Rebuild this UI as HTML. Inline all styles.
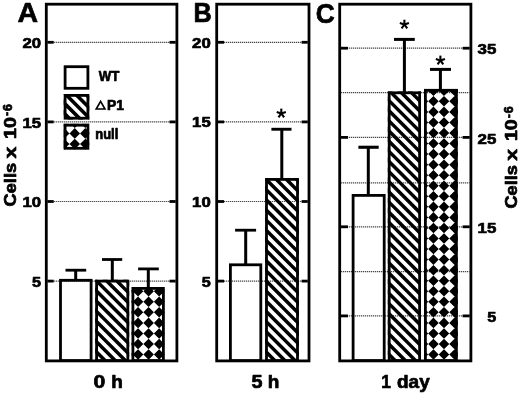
<!DOCTYPE html>
<html><head><meta charset="utf-8"><title>Figure</title>
<style>
html,body{margin:0;padding:0;background:#fff;}
body{width:520px;height:394px;overflow:hidden;}
svg{display:block;filter:blur(0.3px);}
text{font-family:"Liberation Sans",sans-serif;font-weight:bold;fill:#000;stroke:#000;stroke-width:0.7px;stroke-linejoin:round;}
</style></head><body>
<svg width="520" height="394" viewBox="0 0 520 394">
<rect width="520" height="394" fill="#fff"/>
<rect x="59.10" y="278.90" width="33.40" height="83.10" fill="#fff"/>
<rect x="95.20" y="279.70" width="34.00" height="82.30" fill="#fff"/>
<rect x="131.50" y="287.00" width="33.30" height="75.00" fill="#fff"/>
<rect x="229.00" y="263.40" width="33.20" height="98.60" fill="#fff"/>
<rect x="265.10" y="178.00" width="33.80" height="184.00" fill="#fff"/>
<rect x="351.70" y="194.00" width="33.90" height="168.00" fill="#fff"/>
<rect x="387.80" y="91.40" width="33.20" height="270.60" fill="#fff"/>
<rect x="424.00" y="88.90" width="33.80" height="273.10" fill="#fff"/>
<rect x="63.70" y="65.30" width="25.60" height="24.40" fill="#fff"/>
<rect x="63.70" y="94.00" width="25.60" height="25.60" fill="#fff"/>
<rect x="63.70" y="123.80" width="25.60" height="25.90" fill="#fff"/>
<line x1="47.70" y1="42.30" x2="175.50" y2="42.30" stroke="#000" stroke-width="1.2" stroke-dasharray="1.15,0.85" opacity="0.8"/>
<line x1="47.70" y1="121.90" x2="175.50" y2="121.90" stroke="#000" stroke-width="1.2" stroke-dasharray="1.15,0.85" opacity="0.8"/>
<line x1="47.70" y1="201.50" x2="175.50" y2="201.50" stroke="#000" stroke-width="1.2" stroke-dasharray="1.15,0.85" opacity="0.8"/>
<line x1="47.70" y1="281.10" x2="175.50" y2="281.10" stroke="#000" stroke-width="1.2" stroke-dasharray="1.15,0.85" opacity="0.8"/>
<line x1="218.10" y1="42.30" x2="307.60" y2="42.30" stroke="#000" stroke-width="1.2" stroke-dasharray="1.15,0.85" opacity="0.8"/>
<line x1="218.10" y1="121.90" x2="307.60" y2="121.90" stroke="#000" stroke-width="1.2" stroke-dasharray="1.15,0.85" opacity="0.8"/>
<line x1="218.10" y1="201.50" x2="307.60" y2="201.50" stroke="#000" stroke-width="1.2" stroke-dasharray="1.15,0.85" opacity="0.8"/>
<line x1="218.10" y1="281.10" x2="307.60" y2="281.10" stroke="#000" stroke-width="1.2" stroke-dasharray="1.15,0.85" opacity="0.8"/>
<line x1="341.10" y1="48.20" x2="469.50" y2="48.20" stroke="#000" stroke-width="1.2" stroke-dasharray="1.15,0.85" opacity="0.8"/>
<line x1="341.10" y1="92.70" x2="469.50" y2="92.70" stroke="#000" stroke-width="1.2" stroke-dasharray="1.15,0.85" opacity="0.8"/>
<line x1="341.10" y1="137.40" x2="469.50" y2="137.40" stroke="#000" stroke-width="1.2" stroke-dasharray="1.15,0.85" opacity="0.8"/>
<line x1="341.10" y1="182.90" x2="469.50" y2="182.90" stroke="#000" stroke-width="1.2" stroke-dasharray="1.15,0.85" opacity="0.8"/>
<line x1="341.10" y1="226.80" x2="469.50" y2="226.80" stroke="#000" stroke-width="1.2" stroke-dasharray="1.15,0.85" opacity="0.8"/>
<line x1="341.10" y1="271.60" x2="469.50" y2="271.60" stroke="#000" stroke-width="1.2" stroke-dasharray="1.15,0.85" opacity="0.8"/>
<line x1="341.10" y1="315.90" x2="469.50" y2="315.90" stroke="#000" stroke-width="1.2" stroke-dasharray="1.15,0.85" opacity="0.8"/>
<line x1="65.50" y1="270.20" x2="86.20" y2="270.20" stroke="#000" stroke-width="2.8000000000000114"/>
<line x1="75.70" y1="270.20" x2="75.70" y2="280.00" stroke="#000" stroke-width="3.0"/>
<rect x="60.50" y="280.30" width="30.60" height="80.30" fill="none" stroke="#000" stroke-width="2.8"/>
<line x1="102.00" y1="259.50" x2="122.20" y2="259.50" stroke="#000" stroke-width="2.7999999999999545"/>
<line x1="112.30" y1="259.50" x2="112.30" y2="281.00" stroke="#000" stroke-width="3.0"/>
<clipPath id="c1"><rect x="95.20" y="279.70" width="34.00" height="82.30"/></clipPath>
<path d="M92.20,225.85L132.20,265.85M92.20,236.00L132.20,276.00M92.20,246.15L132.20,286.15M92.20,256.30L132.20,296.30M92.20,266.45L132.20,306.45M92.20,276.60L132.20,316.60M92.20,286.75L132.20,326.75M92.20,296.90L132.20,336.90M92.20,307.05L132.20,347.05M92.20,317.20L132.20,357.20M92.20,327.35L132.20,367.35M92.20,337.50L132.20,377.50M92.20,347.65L132.20,387.65M92.20,357.80L132.20,397.80M92.20,367.95L132.20,407.95M92.20,378.10L132.20,418.10" stroke="#000" stroke-width="3.5" fill="none" clip-path="url(#c1)"/>
<rect x="96.60" y="281.10" width="31.20" height="79.50" fill="none" stroke="#000" stroke-width="2.8"/>
<line x1="138.10" y1="268.90" x2="158.80" y2="268.90" stroke="#000" stroke-width="2.8000000000000114"/>
<line x1="148.30" y1="268.90" x2="148.30" y2="288.00" stroke="#000" stroke-width="3.0"/>
<clipPath id="c2"><rect x="131.50" y="287.00" width="33.30" height="75.00"/></clipPath>
<path d="M116.95,264.88L122.23,270.15L116.95,275.42L111.67,270.15ZM116.95,275.43L122.23,280.70L116.95,285.98L111.67,280.70ZM116.95,285.98L122.23,291.25L116.95,296.52L111.67,291.25ZM116.95,296.53L122.23,301.80L116.95,307.07L111.67,301.80ZM116.95,307.08L122.23,312.35L116.95,317.62L111.67,312.35ZM116.95,317.62L122.23,322.90L116.95,328.17L111.67,322.90ZM116.95,328.18L122.23,333.45L116.95,338.73L111.67,333.45ZM116.95,338.73L122.23,344.00L116.95,349.27L111.67,344.00ZM116.95,349.28L122.23,354.55L116.95,359.82L111.67,354.55ZM116.95,359.83L122.23,365.10L116.95,370.38L111.67,365.10ZM116.95,370.38L122.23,375.65L116.95,380.92L111.67,375.65ZM127.50,264.88L132.78,270.15L127.50,275.42L122.22,270.15ZM127.50,275.43L132.78,280.70L127.50,285.98L122.22,280.70ZM127.50,285.98L132.78,291.25L127.50,296.52L122.22,291.25ZM127.50,296.53L132.78,301.80L127.50,307.07L122.22,301.80ZM127.50,307.08L132.78,312.35L127.50,317.62L122.22,312.35ZM127.50,317.62L132.78,322.90L127.50,328.17L122.22,322.90ZM127.50,328.18L132.78,333.45L127.50,338.73L122.22,333.45ZM127.50,338.73L132.78,344.00L127.50,349.27L122.22,344.00ZM127.50,349.28L132.78,354.55L127.50,359.82L122.22,354.55ZM127.50,359.83L132.78,365.10L127.50,370.38L122.22,365.10ZM127.50,370.38L132.78,375.65L127.50,380.92L122.22,375.65ZM138.05,264.88L143.33,270.15L138.05,275.42L132.78,270.15ZM138.05,275.43L143.33,280.70L138.05,285.98L132.78,280.70ZM138.05,285.98L143.33,291.25L138.05,296.52L132.78,291.25ZM138.05,296.53L143.33,301.80L138.05,307.07L132.78,301.80ZM138.05,307.08L143.33,312.35L138.05,317.62L132.78,312.35ZM138.05,317.62L143.33,322.90L138.05,328.17L132.78,322.90ZM138.05,328.18L143.33,333.45L138.05,338.73L132.78,333.45ZM138.05,338.73L143.33,344.00L138.05,349.27L132.78,344.00ZM138.05,349.28L143.33,354.55L138.05,359.82L132.78,354.55ZM138.05,359.83L143.33,365.10L138.05,370.38L132.78,365.10ZM138.05,370.38L143.33,375.65L138.05,380.92L132.78,375.65ZM148.60,264.88L153.88,270.15L148.60,275.42L143.33,270.15ZM148.60,275.43L153.88,280.70L148.60,285.98L143.33,280.70ZM148.60,285.98L153.88,291.25L148.60,296.52L143.33,291.25ZM148.60,296.53L153.88,301.80L148.60,307.07L143.33,301.80ZM148.60,307.08L153.88,312.35L148.60,317.62L143.33,312.35ZM148.60,317.62L153.88,322.90L148.60,328.17L143.33,322.90ZM148.60,328.18L153.88,333.45L148.60,338.73L143.33,333.45ZM148.60,338.73L153.88,344.00L148.60,349.27L143.33,344.00ZM148.60,349.28L153.88,354.55L148.60,359.82L143.33,354.55ZM148.60,359.83L153.88,365.10L148.60,370.38L143.33,365.10ZM148.60,370.38L153.88,375.65L148.60,380.92L143.33,375.65ZM159.15,264.88L164.43,270.15L159.15,275.42L153.88,270.15ZM159.15,275.43L164.43,280.70L159.15,285.98L153.88,280.70ZM159.15,285.98L164.43,291.25L159.15,296.52L153.88,291.25ZM159.15,296.53L164.43,301.80L159.15,307.07L153.88,301.80ZM159.15,307.08L164.43,312.35L159.15,317.62L153.88,312.35ZM159.15,317.62L164.43,322.90L159.15,328.17L153.88,322.90ZM159.15,328.18L164.43,333.45L159.15,338.73L153.88,333.45ZM159.15,338.73L164.43,344.00L159.15,349.27L153.88,344.00ZM159.15,349.28L164.43,354.55L159.15,359.82L153.88,354.55ZM159.15,359.83L164.43,365.10L159.15,370.38L153.88,365.10ZM159.15,370.38L164.43,375.65L159.15,380.92L153.88,375.65ZM169.70,264.88L174.97,270.15L169.70,275.42L164.42,270.15ZM169.70,275.43L174.97,280.70L169.70,285.98L164.42,280.70ZM169.70,285.98L174.97,291.25L169.70,296.52L164.42,291.25ZM169.70,296.53L174.97,301.80L169.70,307.07L164.42,301.80ZM169.70,307.08L174.97,312.35L169.70,317.62L164.42,312.35ZM169.70,317.62L174.97,322.90L169.70,328.17L164.42,322.90ZM169.70,328.18L174.97,333.45L169.70,338.73L164.42,333.45ZM169.70,338.73L174.97,344.00L169.70,349.27L164.42,344.00ZM169.70,349.28L174.97,354.55L169.70,359.82L164.42,354.55ZM169.70,359.83L174.97,365.10L169.70,370.38L164.42,365.10ZM169.70,370.38L174.97,375.65L169.70,380.92L164.42,375.65ZM180.25,264.88L185.53,270.15L180.25,275.42L174.97,270.15ZM180.25,275.43L185.53,280.70L180.25,285.98L174.97,280.70ZM180.25,285.98L185.53,291.25L180.25,296.52L174.97,291.25ZM180.25,296.53L185.53,301.80L180.25,307.07L174.97,301.80ZM180.25,307.08L185.53,312.35L180.25,317.62L174.97,312.35ZM180.25,317.62L185.53,322.90L180.25,328.17L174.97,322.90ZM180.25,328.18L185.53,333.45L180.25,338.73L174.97,333.45ZM180.25,338.73L185.53,344.00L180.25,349.27L174.97,344.00ZM180.25,349.28L185.53,354.55L180.25,359.82L174.97,354.55ZM180.25,359.83L185.53,365.10L180.25,370.38L174.97,365.10ZM180.25,370.38L185.53,375.65L180.25,380.92L174.97,375.65Z" fill="#000" clip-path="url(#c2)"/>
<rect x="132.90" y="288.40" width="30.50" height="72.20" fill="none" stroke="#000" stroke-width="2.8"/>
<line x1="235.10" y1="230.20" x2="256.10" y2="230.20" stroke="#000" stroke-width="2.799999999999983"/>
<line x1="245.70" y1="230.20" x2="245.70" y2="265.00" stroke="#000" stroke-width="3.0"/>
<rect x="230.40" y="264.80" width="30.40" height="95.80" fill="none" stroke="#000" stroke-width="2.8"/>
<line x1="271.40" y1="129.25" x2="291.50" y2="129.25" stroke="#000" stroke-width="2.8999999999999915"/>
<line x1="281.80" y1="129.25" x2="281.80" y2="179.00" stroke="#000" stroke-width="3.0"/>
<clipPath id="c3"><rect x="265.10" y="178.00" width="33.80" height="184.00"/></clipPath>
<path d="M262.10,124.60L301.90,164.40M262.10,134.75L301.90,174.55M262.10,144.90L301.90,184.70M262.10,155.05L301.90,194.85M262.10,165.20L301.90,205.00M262.10,175.35L301.90,215.15M262.10,185.50L301.90,225.30M262.10,195.65L301.90,235.45M262.10,205.80L301.90,245.60M262.10,215.95L301.90,255.75M262.10,226.10L301.90,265.90M262.10,236.25L301.90,276.05M262.10,246.40L301.90,286.20M262.10,256.55L301.90,296.35M262.10,266.70L301.90,306.50M262.10,276.85L301.90,316.65M262.10,287.00L301.90,326.80M262.10,297.15L301.90,336.95M262.10,307.30L301.90,347.10M262.10,317.45L301.90,357.25M262.10,327.60L301.90,367.40M262.10,337.75L301.90,377.55M262.10,347.90L301.90,387.70M262.10,358.05L301.90,397.85M262.10,368.20L301.90,408.00M262.10,378.35L301.90,418.15" stroke="#000" stroke-width="3.5" fill="none" clip-path="url(#c3)"/>
<rect x="266.50" y="179.40" width="31.00" height="181.20" fill="none" stroke="#000" stroke-width="2.8"/>
<line x1="358.40" y1="147.25" x2="378.70" y2="147.25" stroke="#000" stroke-width="3.1000000000000227"/>
<line x1="368.30" y1="147.25" x2="368.30" y2="196.00" stroke="#000" stroke-width="3.0"/>
<rect x="353.10" y="195.40" width="31.10" height="165.20" fill="none" stroke="#000" stroke-width="2.8"/>
<line x1="394.00" y1="39.40" x2="414.80" y2="39.40" stroke="#000" stroke-width="3.0"/>
<line x1="404.40" y1="39.40" x2="404.40" y2="93.00" stroke="#000" stroke-width="3.0"/>
<clipPath id="c4"><rect x="387.80" y="91.40" width="33.20" height="270.60"/></clipPath>
<path d="M384.80,35.50L424.00,74.70M384.80,45.65L424.00,84.85M384.80,55.80L424.00,95.00M384.80,65.95L424.00,105.15M384.80,76.10L424.00,115.30M384.80,86.25L424.00,125.45M384.80,96.40L424.00,135.60M384.80,106.55L424.00,145.75M384.80,116.70L424.00,155.90M384.80,126.85L424.00,166.05M384.80,137.00L424.00,176.20M384.80,147.15L424.00,186.35M384.80,157.30L424.00,196.50M384.80,167.45L424.00,206.65M384.80,177.60L424.00,216.80M384.80,187.75L424.00,226.95M384.80,197.90L424.00,237.10M384.80,208.05L424.00,247.25M384.80,218.20L424.00,257.40M384.80,228.35L424.00,267.55M384.80,238.50L424.00,277.70M384.80,248.65L424.00,287.85M384.80,258.80L424.00,298.00M384.80,268.95L424.00,308.15M384.80,279.10L424.00,318.30M384.80,289.25L424.00,328.45M384.80,299.40L424.00,338.60M384.80,309.55L424.00,348.75M384.80,319.70L424.00,358.90M384.80,329.85L424.00,369.05M384.80,340.00L424.00,379.20M384.80,350.15L424.00,389.35M384.80,360.30L424.00,399.50M384.80,370.45L424.00,409.65" stroke="#000" stroke-width="3.5" fill="none" clip-path="url(#c4)"/>
<rect x="389.20" y="92.80" width="30.40" height="267.80" fill="none" stroke="#000" stroke-width="2.8"/>
<line x1="430.00" y1="69.40" x2="451.00" y2="69.40" stroke="#000" stroke-width="3.0"/>
<line x1="440.40" y1="69.40" x2="440.40" y2="90.00" stroke="#000" stroke-width="3.0"/>
<clipPath id="c5"><rect x="424.00" y="88.90" width="33.80" height="273.10"/></clipPath>
<path d="M412.35,64.42L417.62,69.70L412.35,74.97L407.08,69.70ZM412.35,74.97L417.62,80.25L412.35,85.53L407.08,80.25ZM412.35,85.52L417.62,90.80L412.35,96.08L407.08,90.80ZM412.35,96.07L417.62,101.35L412.35,106.62L407.08,101.35ZM412.35,106.62L417.62,111.90L412.35,117.18L407.08,111.90ZM412.35,117.17L417.62,122.45L412.35,127.73L407.08,122.45ZM412.35,127.72L417.62,133.00L412.35,138.28L407.08,133.00ZM412.35,138.28L417.62,143.55L412.35,148.83L407.08,143.55ZM412.35,148.82L417.62,154.10L412.35,159.38L407.08,154.10ZM412.35,159.38L417.62,164.65L412.35,169.93L407.08,164.65ZM412.35,169.92L417.62,175.20L412.35,180.47L407.08,175.20ZM412.35,180.47L417.62,185.75L412.35,191.03L407.08,185.75ZM412.35,191.03L417.62,196.30L412.35,201.58L407.08,196.30ZM412.35,201.58L417.62,206.85L412.35,212.13L407.08,206.85ZM412.35,212.12L417.62,217.40L412.35,222.68L407.08,217.40ZM412.35,222.67L417.62,227.95L412.35,233.22L407.08,227.95ZM412.35,233.22L417.62,238.50L412.35,243.78L407.08,238.50ZM412.35,243.78L417.62,249.05L412.35,254.33L407.08,249.05ZM412.35,254.33L417.62,259.60L412.35,264.88L407.08,259.60ZM412.35,264.88L417.62,270.15L412.35,275.42L407.08,270.15ZM412.35,275.43L417.62,280.70L412.35,285.98L407.08,280.70ZM412.35,285.98L417.62,291.25L412.35,296.52L407.08,291.25ZM412.35,296.53L417.62,301.80L412.35,307.07L407.08,301.80ZM412.35,307.08L417.62,312.35L412.35,317.62L407.08,312.35ZM412.35,317.62L417.62,322.90L412.35,328.17L407.08,322.90ZM412.35,328.18L417.62,333.45L412.35,338.73L407.08,333.45ZM412.35,338.73L417.62,344.00L412.35,349.27L407.08,344.00ZM412.35,349.28L417.62,354.55L412.35,359.82L407.08,354.55ZM412.35,359.83L417.62,365.10L412.35,370.38L407.08,365.10ZM412.35,370.38L417.62,375.65L412.35,380.92L407.08,375.65ZM422.90,64.42L428.18,69.70L422.90,74.97L417.63,69.70ZM422.90,74.97L428.18,80.25L422.90,85.53L417.63,80.25ZM422.90,85.52L428.18,90.80L422.90,96.08L417.63,90.80ZM422.90,96.07L428.18,101.35L422.90,106.62L417.63,101.35ZM422.90,106.62L428.18,111.90L422.90,117.18L417.63,111.90ZM422.90,117.17L428.18,122.45L422.90,127.73L417.63,122.45ZM422.90,127.72L428.18,133.00L422.90,138.28L417.63,133.00ZM422.90,138.28L428.18,143.55L422.90,148.83L417.63,143.55ZM422.90,148.82L428.18,154.10L422.90,159.38L417.63,154.10ZM422.90,159.38L428.18,164.65L422.90,169.93L417.63,164.65ZM422.90,169.92L428.18,175.20L422.90,180.47L417.63,175.20ZM422.90,180.47L428.18,185.75L422.90,191.03L417.63,185.75ZM422.90,191.03L428.18,196.30L422.90,201.58L417.63,196.30ZM422.90,201.58L428.18,206.85L422.90,212.13L417.63,206.85ZM422.90,212.12L428.18,217.40L422.90,222.68L417.63,217.40ZM422.90,222.67L428.18,227.95L422.90,233.22L417.63,227.95ZM422.90,233.22L428.18,238.50L422.90,243.78L417.63,238.50ZM422.90,243.78L428.18,249.05L422.90,254.33L417.63,249.05ZM422.90,254.33L428.18,259.60L422.90,264.88L417.63,259.60ZM422.90,264.88L428.18,270.15L422.90,275.42L417.63,270.15ZM422.90,275.43L428.18,280.70L422.90,285.98L417.63,280.70ZM422.90,285.98L428.18,291.25L422.90,296.52L417.63,291.25ZM422.90,296.53L428.18,301.80L422.90,307.07L417.63,301.80ZM422.90,307.08L428.18,312.35L422.90,317.62L417.63,312.35ZM422.90,317.62L428.18,322.90L422.90,328.17L417.63,322.90ZM422.90,328.18L428.18,333.45L422.90,338.73L417.63,333.45ZM422.90,338.73L428.18,344.00L422.90,349.27L417.63,344.00ZM422.90,349.28L428.18,354.55L422.90,359.82L417.63,354.55ZM422.90,359.83L428.18,365.10L422.90,370.38L417.63,365.10ZM422.90,370.38L428.18,375.65L422.90,380.92L417.63,375.65ZM433.45,64.42L438.72,69.70L433.45,74.97L428.18,69.70ZM433.45,74.97L438.72,80.25L433.45,85.53L428.18,80.25ZM433.45,85.52L438.72,90.80L433.45,96.08L428.18,90.80ZM433.45,96.07L438.72,101.35L433.45,106.62L428.18,101.35ZM433.45,106.62L438.72,111.90L433.45,117.18L428.18,111.90ZM433.45,117.17L438.72,122.45L433.45,127.73L428.18,122.45ZM433.45,127.72L438.72,133.00L433.45,138.28L428.18,133.00ZM433.45,138.28L438.72,143.55L433.45,148.83L428.18,143.55ZM433.45,148.82L438.72,154.10L433.45,159.38L428.18,154.10ZM433.45,159.38L438.72,164.65L433.45,169.93L428.18,164.65ZM433.45,169.92L438.72,175.20L433.45,180.47L428.18,175.20ZM433.45,180.47L438.72,185.75L433.45,191.03L428.18,185.75ZM433.45,191.03L438.72,196.30L433.45,201.58L428.18,196.30ZM433.45,201.58L438.72,206.85L433.45,212.13L428.18,206.85ZM433.45,212.12L438.72,217.40L433.45,222.68L428.18,217.40ZM433.45,222.67L438.72,227.95L433.45,233.22L428.18,227.95ZM433.45,233.22L438.72,238.50L433.45,243.78L428.18,238.50ZM433.45,243.78L438.72,249.05L433.45,254.33L428.18,249.05ZM433.45,254.33L438.72,259.60L433.45,264.88L428.18,259.60ZM433.45,264.88L438.72,270.15L433.45,275.42L428.18,270.15ZM433.45,275.43L438.72,280.70L433.45,285.98L428.18,280.70ZM433.45,285.98L438.72,291.25L433.45,296.52L428.18,291.25ZM433.45,296.53L438.72,301.80L433.45,307.07L428.18,301.80ZM433.45,307.08L438.72,312.35L433.45,317.62L428.18,312.35ZM433.45,317.62L438.72,322.90L433.45,328.17L428.18,322.90ZM433.45,328.18L438.72,333.45L433.45,338.73L428.18,333.45ZM433.45,338.73L438.72,344.00L433.45,349.27L428.18,344.00ZM433.45,349.28L438.72,354.55L433.45,359.82L428.18,354.55ZM433.45,359.83L438.72,365.10L433.45,370.38L428.18,365.10ZM433.45,370.38L438.72,375.65L433.45,380.92L428.18,375.65ZM444.00,64.42L449.27,69.70L444.00,74.97L438.73,69.70ZM444.00,74.97L449.27,80.25L444.00,85.53L438.73,80.25ZM444.00,85.52L449.27,90.80L444.00,96.08L438.73,90.80ZM444.00,96.07L449.27,101.35L444.00,106.62L438.73,101.35ZM444.00,106.62L449.27,111.90L444.00,117.18L438.73,111.90ZM444.00,117.17L449.27,122.45L444.00,127.73L438.73,122.45ZM444.00,127.72L449.27,133.00L444.00,138.28L438.73,133.00ZM444.00,138.28L449.27,143.55L444.00,148.83L438.73,143.55ZM444.00,148.82L449.27,154.10L444.00,159.38L438.73,154.10ZM444.00,159.38L449.27,164.65L444.00,169.93L438.73,164.65ZM444.00,169.92L449.27,175.20L444.00,180.47L438.73,175.20ZM444.00,180.47L449.27,185.75L444.00,191.03L438.73,185.75ZM444.00,191.03L449.27,196.30L444.00,201.58L438.73,196.30ZM444.00,201.58L449.27,206.85L444.00,212.13L438.73,206.85ZM444.00,212.12L449.27,217.40L444.00,222.68L438.73,217.40ZM444.00,222.67L449.27,227.95L444.00,233.22L438.73,227.95ZM444.00,233.22L449.27,238.50L444.00,243.78L438.73,238.50ZM444.00,243.78L449.27,249.05L444.00,254.33L438.73,249.05ZM444.00,254.33L449.27,259.60L444.00,264.88L438.73,259.60ZM444.00,264.88L449.27,270.15L444.00,275.42L438.73,270.15ZM444.00,275.43L449.27,280.70L444.00,285.98L438.73,280.70ZM444.00,285.98L449.27,291.25L444.00,296.52L438.73,291.25ZM444.00,296.53L449.27,301.80L444.00,307.07L438.73,301.80ZM444.00,307.08L449.27,312.35L444.00,317.62L438.73,312.35ZM444.00,317.62L449.27,322.90L444.00,328.17L438.73,322.90ZM444.00,328.18L449.27,333.45L444.00,338.73L438.73,333.45ZM444.00,338.73L449.27,344.00L444.00,349.27L438.73,344.00ZM444.00,349.28L449.27,354.55L444.00,359.82L438.73,354.55ZM444.00,359.83L449.27,365.10L444.00,370.38L438.73,365.10ZM444.00,370.38L449.27,375.65L444.00,380.92L438.73,375.65ZM454.55,64.42L459.82,69.70L454.55,74.97L449.28,69.70ZM454.55,74.97L459.82,80.25L454.55,85.53L449.28,80.25ZM454.55,85.52L459.82,90.80L454.55,96.08L449.28,90.80ZM454.55,96.07L459.82,101.35L454.55,106.62L449.28,101.35ZM454.55,106.62L459.82,111.90L454.55,117.18L449.28,111.90ZM454.55,117.17L459.82,122.45L454.55,127.73L449.28,122.45ZM454.55,127.72L459.82,133.00L454.55,138.28L449.28,133.00ZM454.55,138.28L459.82,143.55L454.55,148.83L449.28,143.55ZM454.55,148.82L459.82,154.10L454.55,159.38L449.28,154.10ZM454.55,159.38L459.82,164.65L454.55,169.93L449.28,164.65ZM454.55,169.92L459.82,175.20L454.55,180.47L449.28,175.20ZM454.55,180.47L459.82,185.75L454.55,191.03L449.28,185.75ZM454.55,191.03L459.82,196.30L454.55,201.58L449.28,196.30ZM454.55,201.58L459.82,206.85L454.55,212.13L449.28,206.85ZM454.55,212.12L459.82,217.40L454.55,222.68L449.28,217.40ZM454.55,222.67L459.82,227.95L454.55,233.22L449.28,227.95ZM454.55,233.22L459.82,238.50L454.55,243.78L449.28,238.50ZM454.55,243.78L459.82,249.05L454.55,254.33L449.28,249.05ZM454.55,254.33L459.82,259.60L454.55,264.88L449.28,259.60ZM454.55,264.88L459.82,270.15L454.55,275.42L449.28,270.15ZM454.55,275.43L459.82,280.70L454.55,285.98L449.28,280.70ZM454.55,285.98L459.82,291.25L454.55,296.52L449.28,291.25ZM454.55,296.53L459.82,301.80L454.55,307.07L449.28,301.80ZM454.55,307.08L459.82,312.35L454.55,317.62L449.28,312.35ZM454.55,317.62L459.82,322.90L454.55,328.17L449.28,322.90ZM454.55,328.18L459.82,333.45L454.55,338.73L449.28,333.45ZM454.55,338.73L459.82,344.00L454.55,349.27L449.28,344.00ZM454.55,349.28L459.82,354.55L454.55,359.82L449.28,354.55ZM454.55,359.83L459.82,365.10L454.55,370.38L449.28,365.10ZM454.55,370.38L459.82,375.65L454.55,380.92L449.28,375.65ZM465.10,64.42L470.38,69.70L465.10,74.97L459.83,69.70ZM465.10,74.97L470.38,80.25L465.10,85.53L459.83,80.25ZM465.10,85.52L470.38,90.80L465.10,96.08L459.83,90.80ZM465.10,96.07L470.38,101.35L465.10,106.62L459.83,101.35ZM465.10,106.62L470.38,111.90L465.10,117.18L459.83,111.90ZM465.10,117.17L470.38,122.45L465.10,127.73L459.83,122.45ZM465.10,127.72L470.38,133.00L465.10,138.28L459.83,133.00ZM465.10,138.28L470.38,143.55L465.10,148.83L459.83,143.55ZM465.10,148.82L470.38,154.10L465.10,159.38L459.83,154.10ZM465.10,159.38L470.38,164.65L465.10,169.93L459.83,164.65ZM465.10,169.92L470.38,175.20L465.10,180.47L459.83,175.20ZM465.10,180.47L470.38,185.75L465.10,191.03L459.83,185.75ZM465.10,191.03L470.38,196.30L465.10,201.58L459.83,196.30ZM465.10,201.58L470.38,206.85L465.10,212.13L459.83,206.85ZM465.10,212.12L470.38,217.40L465.10,222.68L459.83,217.40ZM465.10,222.67L470.38,227.95L465.10,233.22L459.83,227.95ZM465.10,233.22L470.38,238.50L465.10,243.78L459.83,238.50ZM465.10,243.78L470.38,249.05L465.10,254.33L459.83,249.05ZM465.10,254.33L470.38,259.60L465.10,264.88L459.83,259.60ZM465.10,264.88L470.38,270.15L465.10,275.42L459.83,270.15ZM465.10,275.43L470.38,280.70L465.10,285.98L459.83,280.70ZM465.10,285.98L470.38,291.25L465.10,296.52L459.83,291.25ZM465.10,296.53L470.38,301.80L465.10,307.07L459.83,301.80ZM465.10,307.08L470.38,312.35L465.10,317.62L459.83,312.35ZM465.10,317.62L470.38,322.90L465.10,328.17L459.83,322.90ZM465.10,328.18L470.38,333.45L465.10,338.73L459.83,333.45ZM465.10,338.73L470.38,344.00L465.10,349.27L459.83,344.00ZM465.10,349.28L470.38,354.55L465.10,359.82L459.83,354.55ZM465.10,359.83L470.38,365.10L465.10,370.38L459.83,365.10ZM465.10,370.38L470.38,375.65L465.10,380.92L459.83,375.65ZM475.65,64.42L480.93,69.70L475.65,74.97L470.38,69.70ZM475.65,74.97L480.93,80.25L475.65,85.53L470.38,80.25ZM475.65,85.52L480.93,90.80L475.65,96.08L470.38,90.80ZM475.65,96.07L480.93,101.35L475.65,106.62L470.38,101.35ZM475.65,106.62L480.93,111.90L475.65,117.18L470.38,111.90ZM475.65,117.17L480.93,122.45L475.65,127.73L470.38,122.45ZM475.65,127.72L480.93,133.00L475.65,138.28L470.38,133.00ZM475.65,138.28L480.93,143.55L475.65,148.83L470.38,143.55ZM475.65,148.82L480.93,154.10L475.65,159.38L470.38,154.10ZM475.65,159.38L480.93,164.65L475.65,169.93L470.38,164.65ZM475.65,169.92L480.93,175.20L475.65,180.47L470.38,175.20ZM475.65,180.47L480.93,185.75L475.65,191.03L470.38,185.75ZM475.65,191.03L480.93,196.30L475.65,201.58L470.38,196.30ZM475.65,201.58L480.93,206.85L475.65,212.13L470.38,206.85ZM475.65,212.12L480.93,217.40L475.65,222.68L470.38,217.40ZM475.65,222.67L480.93,227.95L475.65,233.22L470.38,227.95ZM475.65,233.22L480.93,238.50L475.65,243.78L470.38,238.50ZM475.65,243.78L480.93,249.05L475.65,254.33L470.38,249.05ZM475.65,254.33L480.93,259.60L475.65,264.88L470.38,259.60ZM475.65,264.88L480.93,270.15L475.65,275.42L470.38,270.15ZM475.65,275.43L480.93,280.70L475.65,285.98L470.38,280.70ZM475.65,285.98L480.93,291.25L475.65,296.52L470.38,291.25ZM475.65,296.53L480.93,301.80L475.65,307.07L470.38,301.80ZM475.65,307.08L480.93,312.35L475.65,317.62L470.38,312.35ZM475.65,317.62L480.93,322.90L475.65,328.17L470.38,322.90ZM475.65,328.18L480.93,333.45L475.65,338.73L470.38,333.45ZM475.65,338.73L480.93,344.00L475.65,349.27L470.38,344.00ZM475.65,349.28L480.93,354.55L475.65,359.82L470.38,354.55ZM475.65,359.83L480.93,365.10L475.65,370.38L470.38,365.10ZM475.65,370.38L480.93,375.65L475.65,380.92L470.38,375.65Z" fill="#000" clip-path="url(#c5)"/>
<rect x="425.40" y="90.30" width="31.00" height="270.30" fill="none" stroke="#000" stroke-width="2.8"/>
<line x1="281.30" y1="113.40" x2="281.30" y2="108.60" stroke="#000" stroke-width="2.1"/>
<line x1="281.30" y1="113.40" x2="285.87" y2="111.92" stroke="#000" stroke-width="2.1"/>
<line x1="281.30" y1="113.40" x2="284.12" y2="117.28" stroke="#000" stroke-width="2.1"/>
<line x1="281.30" y1="113.40" x2="278.48" y2="117.28" stroke="#000" stroke-width="2.1"/>
<line x1="281.30" y1="113.40" x2="276.73" y2="111.92" stroke="#000" stroke-width="2.1"/>
<line x1="404.40" y1="24.50" x2="404.40" y2="19.70" stroke="#000" stroke-width="2.1"/>
<line x1="404.40" y1="24.50" x2="408.97" y2="23.02" stroke="#000" stroke-width="2.1"/>
<line x1="404.40" y1="24.50" x2="407.22" y2="28.38" stroke="#000" stroke-width="2.1"/>
<line x1="404.40" y1="24.50" x2="401.58" y2="28.38" stroke="#000" stroke-width="2.1"/>
<line x1="404.40" y1="24.50" x2="399.83" y2="23.02" stroke="#000" stroke-width="2.1"/>
<line x1="440.40" y1="60.40" x2="440.40" y2="55.60" stroke="#000" stroke-width="2.1"/>
<line x1="440.40" y1="60.40" x2="444.97" y2="58.92" stroke="#000" stroke-width="2.1"/>
<line x1="440.40" y1="60.40" x2="443.22" y2="64.28" stroke="#000" stroke-width="2.1"/>
<line x1="440.40" y1="60.40" x2="437.58" y2="64.28" stroke="#000" stroke-width="2.1"/>
<line x1="440.40" y1="60.40" x2="435.83" y2="58.92" stroke="#000" stroke-width="2.1"/>
<rect x="46.30" y="4.20" width="130.60" height="356.70" fill="none" stroke="#000" stroke-width="2.8"/>
<line x1="47.50" y1="42.30" x2="53.70" y2="42.30" stroke="#000" stroke-width="2.8"/>
<line x1="169.50" y1="42.30" x2="175.70" y2="42.30" stroke="#000" stroke-width="2.8"/>
<line x1="47.50" y1="121.90" x2="53.70" y2="121.90" stroke="#000" stroke-width="2.8"/>
<line x1="169.50" y1="121.90" x2="175.70" y2="121.90" stroke="#000" stroke-width="2.8"/>
<line x1="47.50" y1="201.50" x2="53.70" y2="201.50" stroke="#000" stroke-width="2.8"/>
<line x1="169.50" y1="201.50" x2="175.70" y2="201.50" stroke="#000" stroke-width="2.8"/>
<line x1="47.50" y1="281.10" x2="53.70" y2="281.10" stroke="#000" stroke-width="2.8"/>
<line x1="169.50" y1="281.10" x2="175.70" y2="281.10" stroke="#000" stroke-width="2.8"/>
<rect x="216.70" y="4.20" width="92.30" height="356.70" fill="none" stroke="#000" stroke-width="2.8"/>
<line x1="217.90" y1="42.30" x2="224.10" y2="42.30" stroke="#000" stroke-width="2.8"/>
<line x1="301.60" y1="42.30" x2="307.80" y2="42.30" stroke="#000" stroke-width="2.8"/>
<line x1="217.90" y1="121.90" x2="224.10" y2="121.90" stroke="#000" stroke-width="2.8"/>
<line x1="301.60" y1="121.90" x2="307.80" y2="121.90" stroke="#000" stroke-width="2.8"/>
<line x1="217.90" y1="201.50" x2="224.10" y2="201.50" stroke="#000" stroke-width="2.8"/>
<line x1="301.60" y1="201.50" x2="307.80" y2="201.50" stroke="#000" stroke-width="2.8"/>
<line x1="217.90" y1="281.10" x2="224.10" y2="281.10" stroke="#000" stroke-width="2.8"/>
<line x1="301.60" y1="281.10" x2="307.80" y2="281.10" stroke="#000" stroke-width="2.8"/>
<rect x="339.70" y="4.20" width="131.20" height="356.70" fill="none" stroke="#000" stroke-width="2.8"/>
<line x1="340.90" y1="48.20" x2="348.00" y2="48.20" stroke="#000" stroke-width="2.8"/>
<line x1="462.60" y1="48.20" x2="469.70" y2="48.20" stroke="#000" stroke-width="2.8"/>
<line x1="340.90" y1="137.40" x2="348.00" y2="137.40" stroke="#000" stroke-width="2.8"/>
<line x1="462.60" y1="137.40" x2="469.70" y2="137.40" stroke="#000" stroke-width="2.8"/>
<line x1="340.90" y1="226.80" x2="348.00" y2="226.80" stroke="#000" stroke-width="2.8"/>
<line x1="462.60" y1="226.80" x2="469.70" y2="226.80" stroke="#000" stroke-width="2.8"/>
<line x1="340.90" y1="315.90" x2="348.00" y2="315.90" stroke="#000" stroke-width="2.8"/>
<line x1="462.60" y1="315.90" x2="469.70" y2="315.90" stroke="#000" stroke-width="2.8"/>
<rect x="65.10" y="66.70" width="22.80" height="21.60" fill="none" stroke="#000" stroke-width="2.8"/>
<clipPath id="c6"><rect x="63.70" y="94.00" width="25.60" height="25.60"/></clipPath>
<path d="M60.70,48.80L92.30,80.40M60.70,58.95L92.30,90.55M60.70,69.10L92.30,100.70M60.70,79.25L92.30,110.85M60.70,89.40L92.30,121.00M60.70,99.55L92.30,131.15M60.70,109.70L92.30,141.30M60.70,119.85L92.30,151.45M60.70,130.00L92.30,161.60" stroke="#000" stroke-width="3.6" fill="none" clip-path="url(#c6)"/>
<rect x="65.10" y="95.40" width="22.80" height="22.80" fill="none" stroke="#000" stroke-width="2.8"/>
<clipPath id="c7"><rect x="63.70" y="123.80" width="25.60" height="25.90"/></clipPath>
<path d="M43.10,107.03L48.38,112.30L43.10,117.58L37.83,112.30ZM43.10,117.58L48.38,122.85L43.10,128.12L37.83,122.85ZM43.10,128.12L48.38,133.40L43.10,138.68L37.83,133.40ZM43.10,138.68L48.38,143.95L43.10,149.23L37.83,143.95ZM43.10,149.22L48.38,154.50L43.10,159.78L37.83,154.50ZM43.10,159.78L48.38,165.05L43.10,170.33L37.83,165.05ZM53.65,107.03L58.93,112.30L53.65,117.58L48.38,112.30ZM53.65,117.58L58.93,122.85L53.65,128.12L48.38,122.85ZM53.65,128.12L58.93,133.40L53.65,138.68L48.38,133.40ZM53.65,138.68L58.93,143.95L53.65,149.23L48.38,143.95ZM53.65,149.22L58.93,154.50L53.65,159.78L48.38,154.50ZM53.65,159.78L58.93,165.05L53.65,170.33L48.38,165.05ZM64.20,107.03L69.48,112.30L64.20,117.58L58.93,112.30ZM64.20,117.58L69.48,122.85L64.20,128.12L58.93,122.85ZM64.20,128.12L69.48,133.40L64.20,138.68L58.93,133.40ZM64.20,138.68L69.48,143.95L64.20,149.23L58.93,143.95ZM64.20,149.22L69.48,154.50L64.20,159.78L58.93,154.50ZM64.20,159.78L69.48,165.05L64.20,170.33L58.93,165.05ZM74.75,107.03L80.03,112.30L74.75,117.58L69.47,112.30ZM74.75,117.58L80.03,122.85L74.75,128.12L69.47,122.85ZM74.75,128.12L80.03,133.40L74.75,138.68L69.47,133.40ZM74.75,138.68L80.03,143.95L74.75,149.23L69.47,143.95ZM74.75,149.22L80.03,154.50L74.75,159.78L69.47,154.50ZM74.75,159.78L80.03,165.05L74.75,170.33L69.47,165.05ZM85.30,107.03L90.58,112.30L85.30,117.58L80.03,112.30ZM85.30,117.58L90.58,122.85L85.30,128.12L80.03,122.85ZM85.30,128.12L90.58,133.40L85.30,138.68L80.03,133.40ZM85.30,138.68L90.58,143.95L85.30,149.23L80.03,143.95ZM85.30,149.22L90.58,154.50L85.30,159.78L80.03,154.50ZM85.30,159.78L90.58,165.05L85.30,170.33L80.03,165.05ZM95.85,107.03L101.13,112.30L95.85,117.58L90.58,112.30ZM95.85,117.58L101.13,122.85L95.85,128.12L90.58,122.85ZM95.85,128.12L101.13,133.40L95.85,138.68L90.58,133.40ZM95.85,138.68L101.13,143.95L95.85,149.23L90.58,143.95ZM95.85,149.22L101.13,154.50L95.85,159.78L90.58,154.50ZM95.85,159.78L101.13,165.05L95.85,170.33L90.58,165.05ZM106.40,107.03L111.68,112.30L106.40,117.58L101.12,112.30ZM106.40,117.58L111.68,122.85L106.40,128.12L101.12,122.85ZM106.40,128.12L111.68,133.40L106.40,138.68L101.12,133.40ZM106.40,138.68L111.68,143.95L106.40,149.23L101.12,143.95ZM106.40,149.22L111.68,154.50L106.40,159.78L101.12,154.50ZM106.40,159.78L111.68,165.05L106.40,170.33L101.12,165.05Z" fill="#000" clip-path="url(#c7)"/>
<rect x="65.10" y="125.20" width="22.80" height="23.10" fill="none" stroke="#000" stroke-width="2.8"/>
<text x="98.7" y="80.6" font-size="14.4" text-anchor="start" textLength="20.6" lengthAdjust="spacingAndGlyphs" >WT</text>
<path d="M100.6,101.4 L105.0,109.0 L96.2,109.0 Z" fill="none" stroke="#000" stroke-width="1.6" stroke-linejoin="miter"/>
<text x="106.9" y="109.8" font-size="14.2" text-anchor="start" textLength="17.0" lengthAdjust="spacingAndGlyphs" >P1</text>
<text x="95.3" y="139.1" font-size="14.0" text-anchor="start" textLength="23.0" lengthAdjust="spacingAndGlyphs" >null</text>
<text x="17.4" y="21.6" font-size="27.4" text-anchor="start" textLength="20.6" lengthAdjust="spacingAndGlyphs" >A</text>
<text x="193.5" y="21.8" font-size="26.8" text-anchor="start" textLength="18.2" lengthAdjust="spacingAndGlyphs" >B</text>
<text x="315.8" y="23.3" font-size="27.6" text-anchor="start" textLength="19.0" lengthAdjust="spacingAndGlyphs" >C</text>
<text x="22.4" y="48.099999999999994" font-size="15.2" text-anchor="start" textLength="18.6" lengthAdjust="spacingAndGlyphs" >20</text>
<text x="192.1" y="47.8" font-size="15.2" text-anchor="start" textLength="18.6" lengthAdjust="spacingAndGlyphs" >20</text>
<text x="22.4" y="127.7" font-size="15.2" text-anchor="start" textLength="18.6" lengthAdjust="spacingAndGlyphs" >15</text>
<text x="192.1" y="127.4" font-size="15.2" text-anchor="start" textLength="18.6" lengthAdjust="spacingAndGlyphs" >15</text>
<text x="22.4" y="207.3" font-size="15.2" text-anchor="start" textLength="18.6" lengthAdjust="spacingAndGlyphs" >10</text>
<text x="192.1" y="207.0" font-size="15.2" text-anchor="start" textLength="18.6" lengthAdjust="spacingAndGlyphs" >10</text>
<text x="32.0" y="286.90000000000003" font-size="15.2" text-anchor="start" textLength="9.0" lengthAdjust="spacingAndGlyphs" >5</text>
<text x="201.7" y="286.6" font-size="15.2" text-anchor="start" textLength="9.0" lengthAdjust="spacingAndGlyphs" >5</text>
<text x="477.5" y="54.400000000000006" font-size="15.4" text-anchor="start" textLength="18.8" lengthAdjust="spacingAndGlyphs" >35</text>
<text x="477.5" y="143.6" font-size="15.4" text-anchor="start" textLength="18.8" lengthAdjust="spacingAndGlyphs" >25</text>
<text x="477.5" y="232.79999999999998" font-size="15.4" text-anchor="start" textLength="18.8" lengthAdjust="spacingAndGlyphs" >15</text>
<text x="487.3" y="321.8" font-size="15.4" text-anchor="start" textLength="9.0" lengthAdjust="spacingAndGlyphs" >5</text>
<text x="93.6" y="388.3" font-size="18.4" text-anchor="start" textLength="11.8" lengthAdjust="spacingAndGlyphs" >0</text>
<text x="111.3" y="388.3" font-size="18.4" text-anchor="start" textLength="11.6" lengthAdjust="spacingAndGlyphs" >h</text>
<text x="251.6" y="388.3" font-size="18.4" text-anchor="start" textLength="11.0" lengthAdjust="spacingAndGlyphs" >5</text>
<text x="267.7" y="388.3" font-size="18.4" text-anchor="start" textLength="11.6" lengthAdjust="spacingAndGlyphs" >h</text>
<text x="381.3" y="388.3" font-size="18.4" text-anchor="start" textLength="9.6" lengthAdjust="spacingAndGlyphs" >1</text>
<text x="397.0" y="388.3" font-size="18.4" text-anchor="start" textLength="32.8" lengthAdjust="spacingAndGlyphs" >day</text>
<g transform="translate(15.8,205.8) rotate(-90)"><text x="-0.6" y="0" font-size="17.2" textLength="43.5" lengthAdjust="spacingAndGlyphs">Cells</text><text x="47.2" y="0" font-size="17.2" textLength="11.8" lengthAdjust="spacingAndGlyphs">x</text><text x="66.9" y="0" font-size="17.2" textLength="21.9" lengthAdjust="spacingAndGlyphs">10</text><text x="89.7" y="-4.4" font-size="12.4">-</text><text x="94.7" y="-4.2" font-size="12.4">6</text></g>
<g transform="translate(516.9,208.0) rotate(-90)"><text x="-0.6" y="0" font-size="17.2" textLength="43.5" lengthAdjust="spacingAndGlyphs">Cells</text><text x="47.2" y="0" font-size="17.2" textLength="11.8" lengthAdjust="spacingAndGlyphs">x</text><text x="66.9" y="0" font-size="17.2" textLength="21.9" lengthAdjust="spacingAndGlyphs">10</text><text x="89.7" y="-4.4" font-size="12.4">-</text><text x="94.7" y="-4.2" font-size="12.4">6</text></g>
</svg>
</body></html>
